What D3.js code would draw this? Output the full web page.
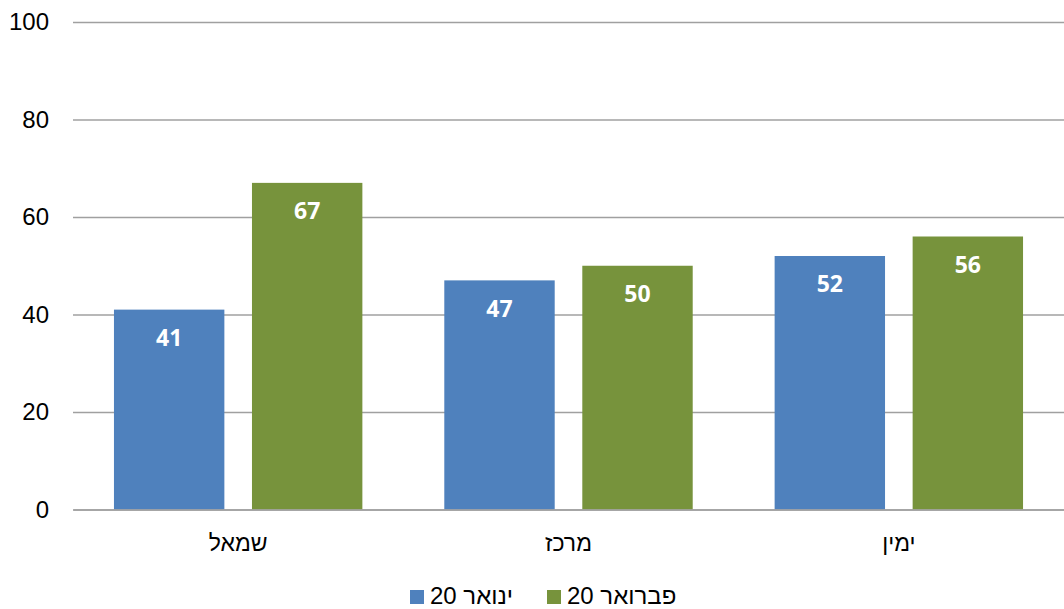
<!DOCTYPE html>
<html>
<head>
  <meta charset="utf-8">
  <style>
    * { margin: 0; padding: 0; box-sizing: border-box; }
    body { background: #fff; }
    svg { display: block; }
  </style>
</head>
<body>
  <div id="chart"></div>
  <script src="https://cdn.jsdelivr.net/npm/d3@7"></script>
  <script>
    // categories read right-to-left in the original, left-to-right on screen
    const categories = ['שמאל', 'מרכז', 'ימין'];
    const seriesNames = ['ינואר 20', 'פברואר 20'];
    const january = [41, 47, 52];
    const february = [67, 50, 56];
    const yTicks = [0, 20, 40, 60, 80, 100];
    const colors = ['#4f81bd', '#77933c'];

    const width = 1064, height = 609;
    const margin = { top: 22, right: 0, bottom: 100, left: 73 };

    const svg = d3.select('#chart').append('svg')
      .attr('width', width).attr('height', height)
      .attr('viewBox', [0, 0, width, height]);

    const x0 = d3.scaleBand().domain(categories)
      .range([margin.left, width - margin.right])
      .paddingInner(0.248).paddingOuter(0.124);
    const x1 = d3.scaleBand().domain(d3.range(seriesNames.length))
      .range([0, x0.bandwidth()]).paddingInner(0.2);
    const y = d3.scaleLinear().domain([0, 100]).range([height - margin.bottom + 0.5, margin.top]);

    // grid + y labels
    const yAxis = svg.append('g')
      .attr('transform', 'translate(' + margin.left + ',0)')
      .call(d3.axisLeft(y).tickValues(yTicks).tickSize(-(width - margin.left - margin.right)).tickPadding(24));
    yAxis.select('.domain').remove();
    yAxis.selectAll('.tick line').attr('stroke', '#a0a0a0').attr('stroke-width', 1.5);
    yAxis.selectAll('.tick text')
      .attr('font-family', 'Liberation Sans, Arial, sans-serif')
      .attr('font-size', 24).attr('fill', '#000');

    const data = categories.map(function(c, i) { return { cat: c, vals: [january[i], february[i]] }; });

    const groups = svg.append('g').selectAll('g').data(data).join('g')
      .attr('transform', function(d) { return 'translate(' + x0(d.cat) + ',0)'; });

    groups.selectAll('rect').data(function(d) { return d.vals; }).join('rect')
      .attr('x', function(d, i) { return x1(i); })
      .attr('y', function(d) { return y(d); })
      .attr('width', x1.bandwidth())
      .attr('height', function(d) { return y(0) - y(d); })
      .attr('fill', function(d, i) { return colors[i]; });

    groups.selectAll('text').data(function(d) { return d.vals; }).join('text')
      .attr('x', function(d, i) { return x1(i) + x1.bandwidth() / 2; })
      .attr('y', function(d) { return y(d) + 30; })
      .attr('text-anchor', 'middle').attr('dominant-baseline', 'middle')
      .attr('font-family', 'Open Sans, sans-serif').attr('font-weight', 'bold')
      .attr('font-size', 23).attr('fill', '#fff')
      .text(function(d) { return d; });

    // x axis line + category labels
    const xAxis = svg.append('g')
      .attr('transform', 'translate(0,' + y(0) + ')')
      .call(d3.axisBottom(x0).tickSize(0).tickPadding(25));
    xAxis.select('.domain').attr('stroke', '#a0a0a0').attr('stroke-width', 1.5);
    xAxis.selectAll('.tick text')
      .attr('font-family', 'Liberation Sans, Arial, sans-serif')
      .attr('font-size', 23).attr('fill', '#000');

    // legend (second series on the right, as in the rtl layout)
    const legendItems = [
      { name: seriesNames[0], color: colors[0], x: 410 },
      { name: seriesNames[1], color: colors[1], x: 547 }
    ];
    const legend = svg.append('g');
    legendItems.forEach(function(it) {
      legend.append('rect').attr('x', it.x).attr('y', 590).attr('width', 14).attr('height', 14).attr('fill', it.color);
      legend.append('text')
        .attr('x', it.x + 20).attr('y', 597.5)
        .attr('direction', 'rtl').attr('text-anchor', 'end')
        .attr('dominant-baseline', 'middle')
        .attr('font-family', 'Liberation Sans, Arial, sans-serif')
        .attr('font-size', 24).attr('fill', '#000')
        .text(it.name);
    });
  </script>
</body>
</html>
